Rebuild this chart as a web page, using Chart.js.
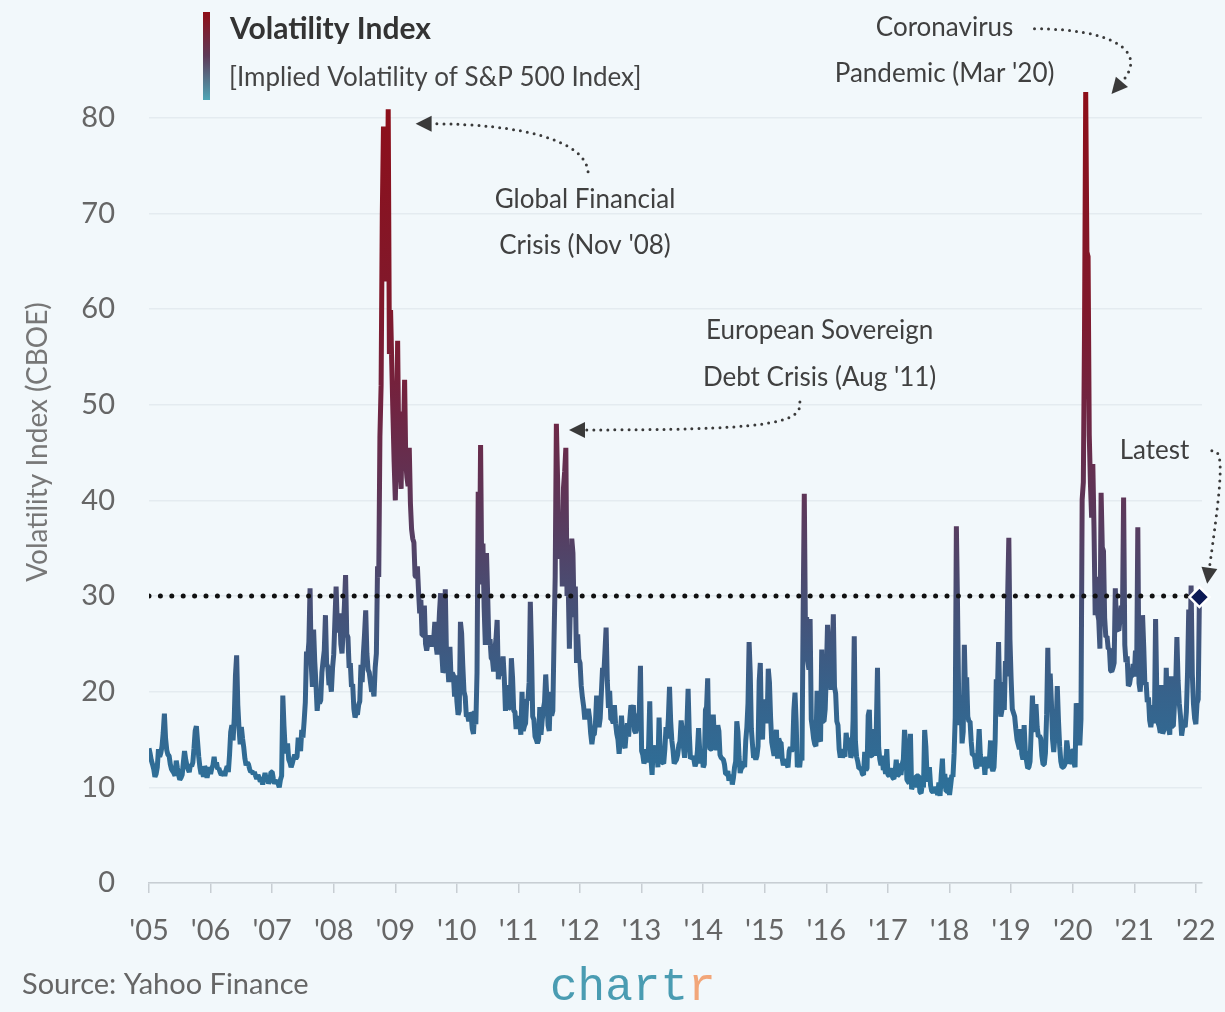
<!DOCTYPE html>
<html>
<head>
<meta charset="utf-8">
<title>Volatility Index</title>
<script src="https://cdn.jsdelivr.net/npm/chart.js@4/dist/chart.umd.min.js"></script>
<style>
    html, body { margin: 0; padding: 0; background: #f2f8fb; }
    #wrap { width: 1225px; height: 1012px; }
</style>
</head>
<body>
<div id="wrap"><canvas id="vix-chart" width="1225" height="1012"></canvas></div>
<script>
// ---- data (approx. weekly VIX closes) ----
const YEARS = [2005, 2006, 2007, 2008, 2009, 2010, 2011, 2012, 2013, 2014, 2015, 2016, 2017, 2018, 2019, 2020, 2021, 2022];

const vix2005 = [14.1,13.5,12.8,12.4,11.9,11.1,11.4,12.1,14.0,13.2,13.6,14.3,15.7,17.7,15.1,13.9,13.4,13.3,12.4,11.9,11.7,11.5,11.2,12.8,12.0,11.3,10.8,11.0,11.3,12.6,13.8,12.9,12.3,11.9,11.6,12.4,12.2,12.6,14.1,15.9,16.4,14.8,13.2,12.1,11.4,11.7,11.1,12.2,11.9,11.0,11.6,12.1];
const vix2006 = [11.4,12.0,12.3,13.2,12.2,12.6,11.9,12.0,11.6,11.3,11.4,11.7,11.2,11.8,12.2,11.6,13.4,15.8,16.5,14.9,17.3,21.7,23.8,18.6,16.2,14.5,16.3,15.1,14.2,13.0,12.3,12.6,12.4,11.9,11.6,11.7,11.4,11.6,11.2,10.9,11.3,11.0,10.6,10.8,10.3,10.9,11.5,10.8,11.1,10.4,10.7,11.6];
const vix2007 = [11.6,10.9,10.4,10.6,10.7,10.4,10.0,10.8,11.2,19.6,16.4,14.0,13.6,14.6,12.9,12.6,12.1,12.5,13.0,13.4,13.0,13.2,15.2,14.3,13.8,16.0,15.2,16.9,18.9,24.2,23.5,25.2,30.8,22.8,20.5,26.5,23.1,20.8,18.0,19.3,18.8,19.1,22.0,23.2,24.3,28.0,22.9,22.6,20.7,21.1,20.0,22.5];
const vix2008 = [23.9,27.5,31.0,27.0,26.2,28.2,25.0,24.0,26.5,29.0,32.2,26.0,25.7,22.5,23.0,20.5,20.8,18.2,17.3,17.8,17.6,18.6,19.0,22.8,21.0,23.9,26.0,28.5,24.0,22.3,22.0,21.0,20.0,20.3,19.5,22.5,24.0,33.1,32.0,46.7,52.0,69.9,79.1,70.3,62.9,66.5,80.9,55.3,59.9,54.3,49.0,44.0];
const vix2009 = [40.0,46.0,56.7,45.0,43.4,41.2,49.3,46.4,52.6,44.0,42.4,41.5,45.5,39.7,37.0,36.0,35.6,32.1,32.0,33.1,30.5,28.2,29.6,25.9,25.9,29.0,25.0,24.3,25.0,25.9,25.0,24.8,25.0,25.4,27.3,24.9,23.9,25.6,28.3,30.3,24.0,22.0,22.3,30.7,24.0,22.9,21.0,24.7,21.3,22.0,21.7,19.5,21.7];
const vix2010 = [19.0,17.6,18.0,27.3,26.1,22.7,20.0,19.5,17.4,17.6,16.9,17.8,17.6,16.1,15.6,18.0,16.6,22.0,40.9,31.2,45.8,32.1,35.5,28.8,24.9,34.5,30.1,24.9,25.5,23.5,23.4,22.1,24.3,25.5,27.5,21.3,22.6,21.7,22.0,23.7,21.5,18.0,19.1,20.7,18.3,18.3,23.5,21.5,18.0,17.9,16.1,17.4];
const vix2011 = [17.1,17.1,15.5,20.0,15.9,16.4,16.7,19.2,19.1,21.0,29.4,24.3,17.4,17.1,15.3,15.0,14.6,15.0,18.4,15.5,17.0,18.2,18.9,21.8,19.3,16.5,15.9,20.0,17.5,18.0,25.3,32.0,48.0,42.4,35.6,33.9,38.5,31.0,41.3,43.0,45.5,30.0,31.3,24.5,30.0,36.0,34.5,27.8,31.0,23.0,26.0,23.4];
const vix2012 = [23.0,20.6,19.4,18.5,17.1,18.0,17.6,18.2,17.3,15.6,14.5,15.5,15.5,16.7,19.6,17.4,16.3,17.2,19.9,22.5,21.7,24.1,26.7,21.2,18.3,20.1,17.1,17.1,16.7,18.6,16.7,15.6,15.0,13.5,15.2,17.5,15.5,14.5,14.1,15.7,16.7,15.3,17.1,18.6,17.6,18.6,15.9,15.7,16.2,17.4,17.8,22.7];
const vix2013 = [13.8,13.4,12.5,12.9,14.0,12.6,14.3,19.0,13.0,11.3,14.4,13.6,12.7,13.9,12.1,17.3,13.6,12.9,12.6,12.5,14.0,16.3,15.1,17.2,20.5,16.9,14.9,13.9,12.5,12.7,12.9,13.4,14.4,14.8,17.0,15.9,14.2,13.1,14.7,16.6,20.3,15.7,13.0,13.1,13.2,12.9,12.2,12.6,13.8,16.2,13.8,12.5,13.7];
const vix2014 = [12.1,12.4,18.1,18.4,21.4,15.0,14.0,14.0,14.1,17.6,15.0,14.4,13.9,16.5,15.9,13.4,13.1,13.0,12.9,12.4,11.4,11.4,11.7,10.7,11.1,11.3,10.3,11.0,12.1,12.7,16.9,15.8,13.2,11.5,12.0,12.1,12.7,12.1,14.9,16.3,18.8,25.2,22.0,16.1,14.5,13.1,13.3,12.9,13.3,14.3,21.1,23.0,16.5,15.0,19.2];
const vix2015 = [17.8,19.2,16.7,22.4,21.0,17.3,14.7,14.0,13.3,15.2,16.0,13.0,15.1,14.7,14.7,13.0,12.3,12.7,12.9,12.4,12.1,13.8,14.2,13.8,14.0,18.0,19.9,16.8,12.1,12.8,12.1,13.4,12.8,28.0,40.7,26.1,27.8,23.2,22.3,27.6,17.1,16.2,15.1,14.5,14.3,20.1,15.5,15.1,14.8,24.4,16.9,16.9,18.2];
const vix2016 = [22.0,27.0,24.4,22.3,20.2,23.4,28.1,20.5,19.8,16.9,16.5,14.0,13.1,14.0,13.1,13.6,13.2,15.7,14.7,14.4,15.2,13.1,13.5,17.0,25.8,14.8,13.2,12.7,12.0,12.0,11.9,11.4,11.3,13.7,11.8,12.0,17.5,18.1,13.3,13.3,13.5,16.1,13.3,16.2,22.5,14.2,12.9,12.3,13.3,11.8,12.2,11.4,14.0];
const vix2017 = [11.3,11.2,11.5,12.0,11.0,10.9,11.5,12.9,11.2,11.3,12.5,11.3,12.4,12.9,16.0,14.6,10.8,10.6,10.4,15.6,9.8,10.2,10.4,10.0,11.2,11.2,11.2,9.5,9.4,10.3,10.0,16.0,14.3,11.3,10.6,12.1,10.2,9.6,9.5,9.7,10.0,9.8,9.2,10.5,9.1,11.3,13.0,9.9,11.4,9.6,9.6,11.0];
const vix2018 = [9.2,10.2,11.3,11.1,13.5,17.3,37.3,29.1,19.5,16.5,19.6,14.6,15.8,24.9,20.0,21.5,17.4,16.9,16.9,14.8,13.4,13.4,13.2,12.2,12.0,13.8,16.1,13.4,12.2,12.9,13.0,11.3,13.2,12.2,12.2,12.9,14.9,12.1,11.7,12.1,14.8,21.3,19.9,25.2,19.3,17.4,18.1,21.0,18.1,23.2,21.6,30.1,36.1,25.4];
const vix2019 = [21.4,18.2,17.8,17.4,16.1,15.0,14.5,14.0,16.1,13.5,12.9,16.5,13.7,12.8,12.0,12.1,12.7,16.0,19.6,16.0,15.9,18.7,16.3,15.3,15.4,15.1,13.3,12.4,12.4,13.6,17.6,24.6,18.0,21.9,19.0,15.0,13.7,15.3,16.2,20.6,17.0,14.3,12.7,12.1,12.1,12.3,12.6,14.9,13.9,12.5,12.7,13.8];
const vix2020 = [13.8,12.6,12.1,18.8,18.0,15.5,14.4,17.1,40.1,41.9,57.8,82.7,66.0,65.5,46.8,41.7,38.2,43.8,37.2,28.0,32.0,28.2,27.5,24.5,40.8,35.1,34.7,27.7,25.7,25.8,24.5,24.5,22.2,22.1,22.5,23.0,30.8,26.9,26.5,26.4,27.6,29.0,27.4,40.3,24.9,23.1,23.7,20.6,20.8,21.6,21.6,22.9];
const vix2021 = [21.6,24.3,21.9,37.2,20.9,20.0,22.1,28.0,24.7,20.7,21.0,18.9,19.4,17.0,16.3,17.3,18.6,16.7,27.6,20.2,16.8,16.4,15.7,20.7,15.6,16.0,16.2,22.5,18.2,16.2,15.5,21.6,16.4,16.4,18.8,20.8,25.7,21.2,18.8,17.5,15.4,16.3,16.5,16.3,17.9,22.0,28.6,22.9,31.1,21.9,18.7,17.2];
const vix2022 = [16.6,18.8,19.2,29.9];

const SERIES = [vix2005, vix2006, vix2007, vix2008, vix2009, vix2010, vix2011, vix2012, vix2013,
    vix2014, vix2015, vix2016, vix2017, vix2018, vix2019, vix2020, vix2021, vix2022];

const Y_TICKS_STEP = 10;
const REF_LEVEL = 30; // 点線の水準

// 注釈: 文字と点線矢印（座標はデータ単位: x=年, y=VIX）
const NOTE_GFC = {
    text: [[2012.08, 71.4, 'Global Financial'], [2012.08, 66.6, "Crisis (Nov '08)"]],
    path: [[2012.13, 74.35], [2012.08, 77.7], [2011.02, 79.37], [2009.59, 79.37]]
};
const NOTE_EURO = {
    text: [[2015.89, 57.73, 'European Sovereign'], [2015.89, 52.81, "Debt Crisis (Aug '11)"]],
    path: [[2015.57, 50.3], [2015.62, 47.9], [2014.92, 47.37], [2012.08, 47.37]]
};
const NOTE_COVID = {
    text: [[2017.92, 89.41, 'Coronavirus'], [2017.92, 84.6, "Pandemic (Mar '20)"]],
    path: [[2019.38, 89.31], [2020.6, 89.31], [2021.25, 87.11], [2020.8, 83.76]]
};
const NOTE_LATEST = {
    text: [[2021.33, 45.18, 'Latest']],
    path: [[2022.26, 45.18], [2022.47, 45.49], [2022.42, 42.14], [2022.22, 32.94]]
};
const NOTES = [NOTE_GFC, NOTE_EURO, NOTE_COVID, NOTE_LATEST];

// 値に対応する線の色（下: 青緑 → 上: 暗い赤）
const COLOR_STOPS = [
    [0, '#2b76a0'], [10, '#2d7099'], [20, '#37628b'], [30, '#484e74'],
    [40, '#5d3658'], [50, '#712441'], [60, '#80192c'], [85, '#8f0d17']
];

const FONT = 'Lato, "Open Sans", sans-serif';
const BG = '#f2f8fb';

// ---- build points ----
const points = [];
YEARS.forEach((yr, k) => {
    const vals = SERIES[k];
    const step = yr === 2022 ? 1 / 52 : 1 / vals.length; // 2022年は途中まで
    vals.forEach((v, j) => points.push({ x: yr + j * step, y: v }));
});
const first = points[0];
const last = points[points.length - 1];

/**
 * 値ベースの縦グラデーション
 */
function lineGradient(context) {
    const { chart } = context;
    const { ctx, chartArea, scales } = chart;
    if (!chartArea) return COLOR_STOPS[1][1];
    const y = scales.y;
    const g = ctx.createLinearGradient(0, y.getPixelForValue(0), 0, y.getPixelForValue(85));
    COLOR_STOPS.forEach(([v, c]) => g.addColorStop(v / 85, c));
    return g;
}

/**
 * 背景、凡例、軸タイトル、注釈、出典を描くプラグイン
 */
const decorPlugin = {
    id: 'decor',
    beforeDraw(chart) {
        const c = chart.ctx;
        c.save();
        c.fillStyle = BG;
        c.fillRect(0, 0, chart.width, chart.height);
        c.restore();
    },
    afterDraw(chart) {
        const c = chart.ctx;
        const { x: xs, y: ys } = chart.scales;
        const px = (p) => [xs.getPixelForValue(p[0]), ys.getPixelForValue(p[1])];
        c.save();

        // 凡例のバー
        const bar = c.createLinearGradient(0, 12, 0, 100);
        bar.addColorStop(0, '#8f0d17');
        bar.addColorStop(0.5, '#5e3a58');
        bar.addColorStop(1, '#4ea6b6');
        c.fillStyle = bar;
        c.fillRect(203, 12, 7, 88);

        c.textBaseline = 'middle';
        c.textAlign = 'left';
        c.fillStyle = '#333';
        c.font = `bold 30px ${FONT}`;
        c.fillText('Volatility Index', 230, 29);
        c.fillStyle = '#444';
        c.font = `26px ${FONT}`;
        c.fillText('[Implied Volatility of S&P 500 Index]', 229, 78);

        // y軸タイトル
        c.save();
        c.translate(38, 442);
        c.rotate(-Math.PI / 2);
        c.textAlign = 'center';
        c.fillStyle = '#777';
        c.font = `28px ${FONT}`;
        c.fillText('Volatility Index (CBOE)', 0, 0);
        c.restore();

        // 注釈
        c.textAlign = 'center';
        c.font = `26px ${FONT}`;
        c.fillStyle = '#404040';
        NOTES.forEach(note => {
            note.text.forEach(([tx, ty, s]) => {
                const [x, y] = px([tx, ty]);
                c.fillText(s, x, y);
            });
            const [p0, p1, p2, p3] = note.path.map(px);
            c.strokeStyle = '#3a3a3a';
            c.lineWidth = 3;
            c.lineCap = 'round';
            c.setLineDash([0, 7]);
            c.beginPath();
            c.moveTo(p0[0], p0[1]);
            c.bezierCurveTo(p1[0], p1[1], p2[0], p2[1], p3[0], p3[1]);
            c.stroke();
            c.setLineDash([]);
            // 矢印の先
            let dx = p3[0] - p2[0], dy = p3[1] - p2[1];
            const len = Math.hypot(dx, dy) || 1;
            dx /= len; dy /= len;
            const tipX = p3[0] + dx * 16, tipY = p3[1] + dy * 16;
            c.fillStyle = '#3a3a3a';
            c.beginPath();
            c.moveTo(tipX, tipY);
            c.lineTo(p3[0] - dy * 8, p3[1] + dx * 8);
            c.lineTo(p3[0] + dy * 8, p3[1] - dx * 8);
            c.closePath();
            c.fill();
            c.fillStyle = '#404040';
        });

        // 出典とロゴ
        c.textAlign = 'left';
        c.fillStyle = '#666';
        c.font = `29px ${FONT}`;
        c.fillText('Source: Yahoo Finance', 22, 985);
        c.font = '46px "Liberation Mono", monospace';
        c.textBaseline = 'alphabetic';
        c.fillStyle = '#4a9cb2';
        c.fillText('chart', 550, 1000);
        const w = c.measureText('chart').width;
        c.fillStyle = '#f2a679';
        c.fillText('r', 550 + w, 1000);
        c.restore();
    }
};

Chart.defaults.font.family = FONT;

new Chart(document.getElementById('vix-chart'), {
    type: 'line',
    data: {
        datasets: [
            {
                // 最新値の菱形
                data: [last],
                showLine: false,
                pointStyle: 'rectRot',
                pointRadius: 10,
                pointBackgroundColor: '#0c1a55',
                pointBorderColor: '#ffffff',
                pointBorderWidth: 2.5,
                clip: false,
                order: 0
            },
            {
                // 30の点線
                data: [{ x: first.x, y: REF_LEVEL }, { x: last.x, y: REF_LEVEL }],
                borderColor: '#111111',
                borderWidth: 5,
                borderDash: [0, 11.4],
                borderCapStyle: 'round',
                pointRadius: 0,
                order: 1
            },
            {
                label: 'Volatility Index',
                data: points,
                borderColor: lineGradient,
                borderWidth: 5,
                borderJoinStyle: 'bevel',
                pointRadius: 0,
                tension: 0,
                order: 2
            }
        ]
    },
    options: {
        responsive: false,
        animation: false,
        layout: { padding: { top: 70, right: 23, bottom: 0, left: 0 } },
        plugins: { legend: { display: false }, tooltip: { enabled: false } },
        scales: {
            x: {
                type: 'linear',
                min: 2005,
                max: 2022.1,
                afterFit: (s) => { s.height = 129; s.paddingLeft = 0; s.paddingRight = 0; },
                grid: { drawOnChartArea: false, drawTicks: true, tickLength: 10, color: '#c8ced3', lineWidth: 1.5 },
                border: { color: '#c8ced3', width: 1.5 },
                ticks: {
                    stepSize: 1,
                    includeBounds: false,
                    autoSkip: false,
                    maxRotation: 0,
                    padding: 20,
                    color: '#666',
                    font: { size: 29 },
                    callback: (v) => Number.isInteger(v) ? "'" + String(v).slice(2) : ''
                }
            },
            y: {
                min: 0,
                max: 85,
                afterFit: (s) => { s.width = 149; },
                grid: { color: '#e4ebf0', lineWidth: 1.5, drawTicks: false, tickLength: 0 },
                border: { display: false },
                ticks: { stepSize: Y_TICKS_STEP, includeBounds: false, padding: 34, color: '#666', font: { size: 29 } }
            }
        }
    },
    plugins: [decorPlugin]
});
</script>
</body>
</html>
